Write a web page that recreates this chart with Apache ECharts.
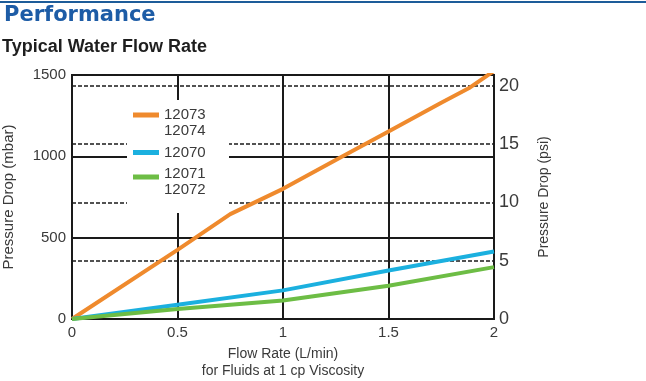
<!DOCTYPE html>
<html><head><meta charset="utf-8">
<script src="https://cdn.jsdelivr.net/npm/echarts@6/dist/echarts.min.js"></script>
<style>html,body{margin:0;padding:0;background:#fff}#c{width:646px;height:381px}</style>
</head><body><div id="c"></div>
<script>
// ---- data ----
var orangeFlow = [0, 0.5, 0.75, 1, 1.25, 1.5, 1.75, 1.88, 2];
var orangeMbar = [0, 425, 645, 800, 977, 1152, 1330, 1418, 1525];
var blueFlow = [0, 0.5, 1, 1.5, 2];
var blueMbar = [0, 88, 176, 298, 415];
var greenFlow = [0, 0.5, 1, 1.5, 2];
var greenMbar = [0, 61, 114, 204, 319];
var seriesNames = ['12073\n12074', '12070', '12071\n12072'];
var seriesColors = ['#ef8a2d', '#1bb0df', '#6dbd45'];
var xTicks = [0, 0.5, 1, 1.5, 2];
var mbarTicks = [0, 500, 1000, 1500];
var psiTicks = [0, 5, 10, 15, 20];

function pairs(xs, ys){ return xs.map(function(x,i){ return [x, ys[i]]; }); }

var FONT = '"Liberation Sans", Arial, sans-serif';
var chart = echarts.init(document.getElementById('c'), null, {renderer:'canvas'});
var legendBase = {
  orient:'vertical', left:133, padding:0, itemWidth:26, itemHeight:5,
  textStyle:{fontFamily:FONT, fontSize:15, color:'#3a3a3a', lineHeight:16},
  selectedMode:false
};
chart.setOption({
  animation:false,
  title:[
    {text:'Performance', left:4, top:5, padding:0,
     textStyle:{fontFamily:'"DejaVu Sans", sans-serif', fontWeight:'bold', fontSize:21, color:'#1d5ca6'}},
    {text:'Typical Water Flow Rate', left:2, top:38, padding:0,
     textStyle:{fontFamily:FONT, fontWeight:'bold', fontSize:18, color:'#1e1e1e'}}
  ],
  graphic:[
    {type:'rect', left:0, top:1, shape:{width:646, height:2}, style:{fill:'#1d5c99'}, z:1},
    {type:'rect', left:127, top:100, shape:{width:102, height:113}, style:{fill:'#fff'}, z:1}
  ],
  legend:[
    Object.assign({}, legendBase, {top:107, itemHeight:21, icon:'path://M0,0H26V5H0Z M0,21L26,21', data:[seriesNames[0]]}),
    Object.assign({}, legendBase, {top:144.5, icon:'rect', data:[seriesNames[1]]}),
    Object.assign({}, legendBase, {top:166, itemHeight:15, icon:'path://M0,0H26V5H0Z M0,15L26,15', data:[seriesNames[2]]})
  ],
  grid:{left:72, right:152, top:75, bottom:62, show:true, borderColor:'#1a1a1a', borderWidth:2,
        backgroundColor:'transparent', outerBoundsMode:'none', containLabel:false},
  xAxis:{
    type:'value', min:xTicks[0], max:xTicks[xTicks.length-1], interval:0.5,
    name:'Flow Rate (L/min)\nfor Fluids at 1 cp Viscosity', nameLocation:'middle', nameGap:23,
    nameTextStyle:{fontFamily:FONT, fontSize:14, color:'#3a3a3a', lineHeight:17.5},
    axisLine:{show:false}, axisTick:{show:false},
    axisLabel:{fontFamily:FONT, fontSize:15, color:'#3a3a3a', margin:6},
    splitLine:{show:true, lineStyle:{color:'#1a1a1a', width:2}}
  },
  yAxis:[
    {type:'value', position:'left', min:mbarTicks[0], max:mbarTicks[mbarTicks.length-1], interval:500,
     name:'Pressure Drop (mbar)', nameLocation:'middle', nameGap:56,
     nameTextStyle:{fontFamily:FONT, fontSize:15, color:'#3a3a3a'},
     axisLine:{show:false}, axisTick:{show:false},
     axisLabel:{fontFamily:FONT, fontSize:15, color:'#3a3a3a', margin:6, formatter:function(v){return String(v);}},
     splitLine:{show:true, lineStyle:{color:'#1a1a1a', width:2}}},
    {type:'value', position:'right', min:psiTicks[0], max:20.94, interval:5,
     name:'Pressure Drop (psi)', nameLocation:'middle', nameGap:43,
     nameTextStyle:{fontFamily:FONT, fontSize:14, color:'#3a3a3a'},
     axisLine:{show:false}, axisTick:{show:false},
     axisLabel:{fontFamily:FONT, fontSize:18, color:'#3a3a3a', margin:5, showMaxLabel:false},
     splitLine:{show:true, lineStyle:{color:'#1a1a1a', width:1.5, type:[4,2]}}}
  ],
  series:[
    {name:seriesNames[0], type:'line', data:pairs(orangeFlow, orangeMbar), showSymbol:false, clip:true,
     color:seriesColors[0], lineStyle:{width:4, color:seriesColors[0]}},
    {name:seriesNames[1], type:'line', data:pairs(blueFlow, blueMbar), showSymbol:false, clip:true,
     color:seriesColors[1], lineStyle:{width:4, color:seriesColors[1]}},
    {name:seriesNames[2], type:'line', data:pairs(greenFlow, greenMbar), showSymbol:false, clip:true,
     color:seriesColors[2], lineStyle:{width:4, color:seriesColors[2]}}
  ]
});
</script></body></html>
